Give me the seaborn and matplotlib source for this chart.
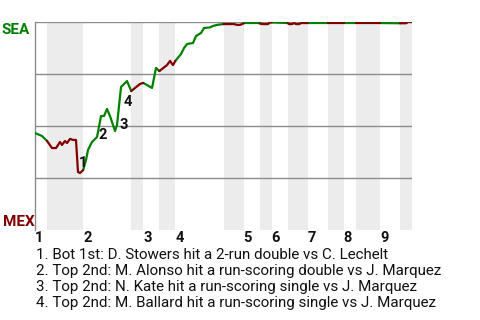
import matplotlib
matplotlib.use("Agg")
import matplotlib.pyplot as plt
import matplotlib.transforms as mtransforms
import pandas as pd
import seaborn as sns

# ---- data ----
progress = [0, 1.75, 3, 4.24, 5.24, 6.23, 6.73, 7.48, 7.98, 8.73, 9.48, 10.22, 10.72, 11.22,
            12, 12.72, 13.22, 14.21, 15.46, 16.46, 17.21, 17.96, 18.70, 19.95, 20.45, 21.45,
            21.95, 22.94, 24, 24.94, 26.18, 27, 29.18, 30.17, 31, 31.67, 32.92, 33.67, 34.41,
            35, 36.41, 37.16, 37.91, 39.40, 40.15, 41.40, 42.14, 43.64, 44.39, 45.39, 47,
            49.63, 50.37, 51.12, 52, 56, 56.61, 58.10, 58.60, 59, 63, 63.34, 64.09, 64.59,
            65.09, 65.84, 66.33, 68, 73, 77, 80, 86, 91, 92.52, 93.02, 94]
win_prob = [46.6, 45.2, 42.8, 39.4, 39.4, 42.3, 40.9, 42.8, 41.8, 43.8, 43.3, 43.3, 27.9, 27.4,
            28.8, 33.7, 38.5, 42.3, 44.7, 54.8, 54.8, 58.2, 54.8, 47.6, 50.5, 68.8,
            69.7, 71.6, 66.8, 68.3, 70.2, 70.7, 68.3, 77.9, 76.4, 77.4, 79.3, 81.3, 79.3,
            81.3, 84.6, 87.5, 89.4, 89.9, 93.3, 94.7, 97.1, 97.4, 98.1, 98.6, 99.0,
            99.0, 98.6, 98.6, 99.3, 99.3, 99.0, 99.0, 99.8, 99.8, 99.5, 99.0, 99.0, 99.5,
            99.0, 99.0, 99.5, 99.5, 99.5, 99.5, 99.5, 99.5, 99.4, 99.4, 100, 100]
half_bounds = [0, 3, 12, 24, 27, 31, 35, 47, 52, 56, 59, 63, 68, 73, 77, 80, 86, 91, 94]
inning_labels = ["1", "2", "3", "4", "5", "6", "7", "8", "9"]
top_team = "SEA"
bottom_team = "MEX"
event_labels = ["1", "2", "3", "4"]
event_index = [13, 18, 23, 24]
event_texts = [
    "1. Bot 1st: D. Stowers hit a 2-run double vs C. Lechelt",
    "2. Top 2nd: M. Alonso hit a run-scoring double vs J. Marquez",
    "3. Top 2nd: N. Kate hit a run-scoring single vs J. Marquez",
    "4. Top 2nd: M. Ballard hit a run-scoring single vs J. Marquez",
]

# ---- style ----
GREEN = "#008000"
RED = "#800000"
GRID = "#8c8c8c"
BAND = "#ececec"
label_offsets = [(2.2, 7.2), (4.3, 1.8), (6.5, 4.3), (7.6, 16.6)]  # points

sns.set_theme(style="white")
plt.rcParams["font.family"] = ["Roboto", "DejaVu Sans"]

rows = []
for h in range(len(half_bounds) - 1):
    lo, hi = half_bounds[h], half_bounds[h + 1]
    side = "top" if h % 2 == 0 else "bot"
    for x, y in zip(progress, win_prob):
        if lo <= x <= hi:
            rows.append({"x": x, "wp": y, "half": h, "side": side})
df = pd.DataFrame(rows)

fig = plt.figure(figsize=(4.8, 3.2), dpi=100)
ax = fig.add_axes([35 / 480, 90 / 320, 377 / 480, 208 / 320])

for h in range(1, len(half_bounds) - 1, 2):
    ax.axvspan(half_bounds[h], half_bounds[h + 1], color=BAND, lw=0, zorder=0)
for g in [25, 50, 75, 100]:
    ax.axhline(g, color=GRID, lw=1, zorder=1)

sns.lineplot(data=df, x="x", y="wp", hue="side", units="half", estimator=None,
             sort=False, palette={"top": GREEN, "bot": RED}, lw=1.6, legend=False,
             ax=ax, zorder=3)

for lab, idx, off in zip(event_labels, event_index, label_offsets):
    ax.annotate(lab, (progress[idx], win_prob[idx]), xytext=off, textcoords="offset points",
                ha="center", va="center", fontsize=10.5, fontweight="bold", color="#111111",
                zorder=4)

ax.set_xlim(half_bounds[0], half_bounds[-1])
ax.set_ylim(0, 100)
ax.set_xticks([])
ax.set_yticks([])
ax.set_xlabel("")
ax.set_ylabel("")
for s in ["top", "right", "bottom"]:
    ax.spines[s].set_visible(False)
ax.spines["left"].set_color(GRID)
ax.spines["left"].set_linewidth(1)
ax.patch.set_alpha(0)

trans = mtransforms.blended_transform_factory(ax.transData, ax.transAxes)
for lab, x in zip(inning_labels, half_bounds[0::2]):
    ax.text(x, -12 / 208, lab, transform=trans, ha="left", va="baseline",
            fontsize=10.5, fontweight="bold", color="#111111")

fig.text(2 / 480, 1 - 34 / 320, top_team, color=GREEN, fontsize=11, fontweight="bold",
         ha="left", va="baseline")
fig.text(3 / 480, 1 - 226 / 320, bottom_team, color=RED, fontsize=11, fontweight="bold",
         ha="left", va="baseline")

for i, t in enumerate(event_texts):
    fig.text(36 / 480, 1 - (259.3 + 16 * i) / 320, t, fontsize=10.9, color="#111111",
             ha="left", va="baseline")

fig.savefig("out.png", dpi=100)
